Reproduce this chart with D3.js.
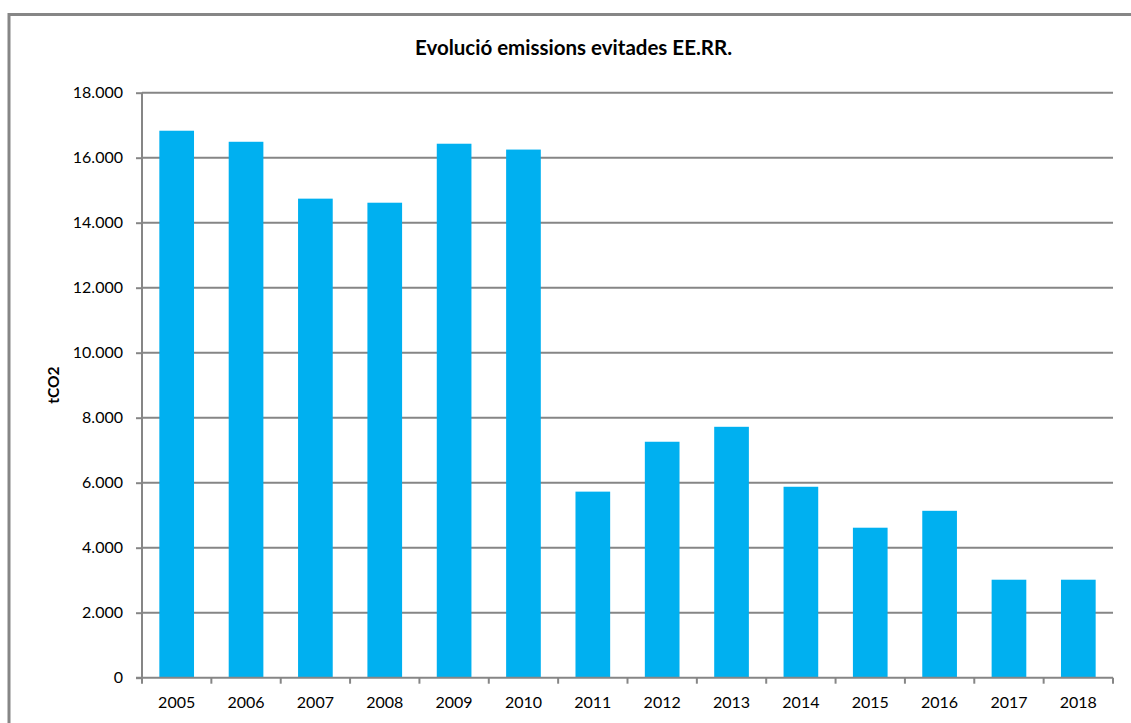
<!DOCTYPE html>
<html>
<head>
<meta charset="utf-8">
<script src="https://cdn.jsdelivr.net/npm/d3@7"></script>
<style>
  html, body { margin: 0; padding: 0; background: #fff; }
  svg { display: block; }
  text { font-family: Lato, "Open Sans", sans-serif; fill: #000; }
</style>
</head>
<body>
<svg id="chart" width="1131" height="723"></svg>
<script>
const years = ["2005","2006","2007","2008","2009","2010","2011","2012","2013","2014","2015","2016","2017","2018"];
const emissions = [16830, 16490, 14740, 14615, 16430, 16250, 5725, 7260, 7720, 5875, 4615, 5135, 3015, 3015];
const yTicks = [0, 2000, 4000, 6000, 8000, 10000, 12000, 14000, 16000, 18000];
const title = "Evolució emissions evitades EE.RR.";
const yTitle = "tCO2";

const svg = d3.select("#chart");
const plot = { left: 142, right: 1113, top: 92.7, bottom: 677.7 };

// outer chart border
svg.append("rect")
  .attr("x", 9).attr("y", 14.5)
  .attr("width", 1160).attr("height", 760)
  .attr("fill", "none").attr("stroke", "#868686").attr("stroke-width", 3);

const x = d3.scaleBand().domain(years).range([plot.left, plot.right])
  .paddingInner(0.5).paddingOuter(0.25);
const y = d3.scaleLinear().domain([0, 18000]).range([plot.bottom, plot.top]);

const fmt = v => v === 0 ? "0" : d3.format(",")(v).replace(/,/g, ".");

// gridlines
svg.append("g").selectAll("line").data(yTicks.filter(d => d > 0)).join("line")
  .attr("x1", plot.left).attr("x2", plot.right)
  .attr("y1", d => y(d)).attr("y2", d => y(d))
  .attr("stroke", "#868686").attr("stroke-width", 2);

// bars
svg.append("g").selectAll("rect").data(years).join("rect")
  .attr("x", (d) => x(d))
  .attr("width", x.bandwidth())
  .attr("y", (d, i) => y(emissions[i]))
  .attr("height", (d, i) => y(0) - y(emissions[i]))
  .attr("fill", "#00B0F0");

// y axis
const yAxis = d3.axisLeft(y).tickValues(yTicks).tickFormat(fmt).tickSize(6).tickPadding(13);
const gy = svg.append("g").attr("transform", `translate(${plot.left},0)`).call(yAxis);
gy.select(".domain").attr("stroke", "#868686").attr("stroke-width", 2).attr("d", `M0,${plot.top}V${plot.bottom}`);
gy.selectAll(".tick line").attr("stroke", "#868686").attr("stroke-width", 2);
gy.selectAll(".tick text").style("font-size", "16px").style("font-family", "Lato, sans-serif").attr("fill", "#000");

// x axis with ticks at category boundaries
const gx = svg.append("g").attr("transform", `translate(0,${plot.bottom})`);
gx.append("line").attr("x1", plot.left - 6).attr("x2", plot.right)
  .attr("y1", 0).attr("y2", 0).attr("stroke", "#868686").attr("stroke-width", 2);
const bounds = d3.range(years.length + 1).map(i => plot.left + i * (plot.right - plot.left) / years.length);
gx.selectAll("line.tk").data(bounds).join("line").attr("class", "tk")
  .attr("x1", d => d).attr("x2", d => d).attr("y1", 0).attr("y2", 6)
  .attr("stroke", "#868686").attr("stroke-width", 2);
gx.selectAll("text").data(years).join("text")
  .attr("x", d => x(d) + x.bandwidth() / 2)
  .attr("y", 30)
  .attr("text-anchor", "middle")
  .style("font-size", "16px")
  .text(d => d);

// title
svg.append("text").attr("x", 573.5).attr("y", 54.5).attr("text-anchor", "middle")
  .style("font-size", "20.5px").style("font-weight", "bold").text(title);

// y title
svg.append("text")
  .attr("transform", `translate(59,${(plot.top + plot.bottom) / 2}) rotate(-90)`)
  .attr("text-anchor", "middle")
  .style("font-size", "15.5px").style("font-weight", "bold").text(yTitle);
</script>
</body>
</html>
